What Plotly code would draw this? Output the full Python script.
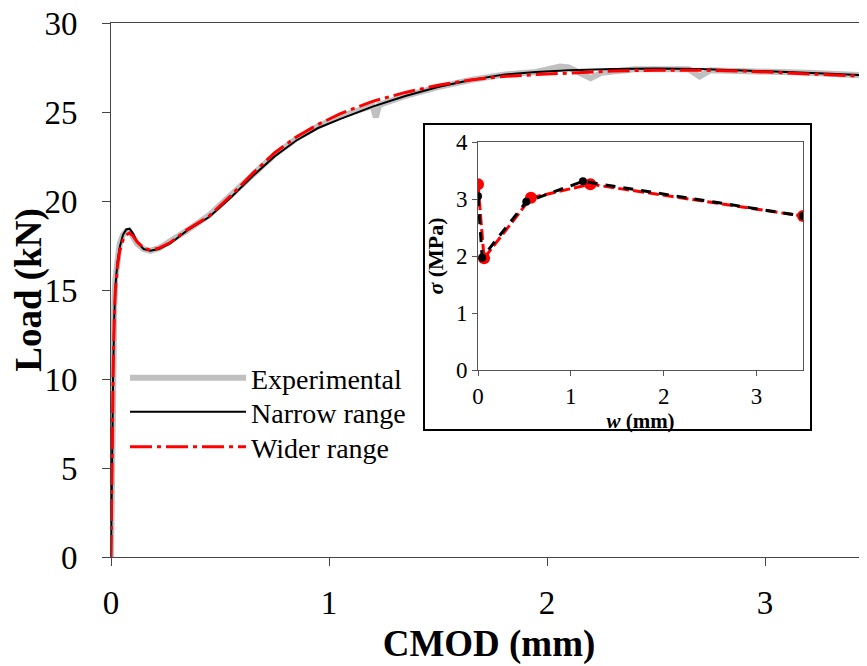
import plotly.graph_objects as go

# ---------------- data ----------------
exp_x = [0, 0.003, 0.006, 0.01, 0.015, 0.02, 0.03, 0.04, 0.055, 0.07, 0.085, 0.1, 0.12, 0.15,
         0.18, 0.22, 0.27, 0.35, 0.45, 0.55, 0.65, 0.75, 0.85, 0.95, 1.05, 1.15, 1.2, 1.215,
         1.23, 1.35, 1.5, 1.65, 1.8, 1.95, 2.0, 2.06, 2.1, 2.15, 2.2, 2.25, 2.4, 2.65, 2.7,
         2.75, 3.0, 3.2, 3.47]
exp_y = [0, 3.8, 7.5, 11.0, 14.0, 15.6, 16.9, 17.6, 18.1, 18.3, 18.3, 18.0, 17.6, 17.3,
         17.2, 17.35, 17.7, 18.35, 19.2, 20.3, 21.5, 22.6, 23.5, 24.2, 24.75, 25.2, 25.35, 24.7,
         25.4, 25.9, 26.4, 26.8, 27.1, 27.25, 27.4, 27.55, 27.5, 27.2, 26.9, 27.2, 27.4, 27.4, 27.0,
         27.35, 27.3, 27.2, 27.05]

nar_x = [0, 0.003, 0.006, 0.01, 0.015, 0.02, 0.03, 0.04, 0.055, 0.07, 0.085, 0.1, 0.12, 0.15,
         0.18, 0.22, 0.27, 0.35, 0.45, 0.55, 0.65, 0.75, 0.85, 0.95, 1.05, 1.2, 1.35, 1.5, 1.65,
         1.8, 1.95, 2.1, 2.3, 2.5, 2.7, 2.9, 3.1, 3.3, 3.47]
nar_y = [0, 3.5, 7.0, 10.5, 13.5, 15.2, 16.6, 17.4, 18.1, 18.4, 18.45, 18.2, 17.7, 17.3,
         17.2, 17.3, 17.6, 18.35, 19.1, 20.2, 21.4, 22.5, 23.4, 24.1, 24.6, 25.3, 25.9, 26.4, 26.8,
         27.1, 27.25, 27.35, 27.42, 27.45, 27.42, 27.35, 27.25, 27.15, 27.05]

wid_x = nar_x
wid_y = [0, 3.5, 7.0, 10.5, 13.5, 15.0, 16.4, 17.2, 17.8, 18.1, 18.2, 18.05, 17.7, 17.35,
         17.25, 17.35, 17.65, 18.4, 19.15, 20.3, 21.55, 22.7, 23.6, 24.3, 24.9, 25.6, 26.1, 26.5,
         26.8, 27.0, 27.1, 27.2, 27.3, 27.35, 27.35, 27.3, 27.2, 27.1, 27.0]

# inset: cohesive law sigma(w)
ins_nar_w = [0.0, 0.045, 0.52, 1.13, 3.5]
ins_nar_s = [3.05, 1.97, 2.95, 3.31, 2.70]
ins_wid_w = [0.0, 0.065, 0.57, 1.21, 3.5]
ins_wid_s = [3.26, 1.96, 3.02, 3.26, 2.70]

main_xticks = [0, 1, 2, 3]
main_yticks = [0, 5, 10, 15, 20, 25, 30]
ins_xticks = [0, 1, 2, 3]
ins_yticks = [0, 1, 2, 3, 4]

FONT = "Liberation Serif, Times New Roman, serif"

# page body has an 8px margin: work in window pixels, then subtract it
OFF = 8
WIN_W, WIN_H = 867, 666
W, H = WIN_W - OFF, WIN_H - OFF
PL, PR, PT, PB = 111, 867, 23, 557      # plot area in window pixels
L, T = PL - OFF, PT - OFF
R = (OFF + W) - PR
B = (OFF + H) - PB
pw, ph = PR - PL, PB - PT

def px_x(p):
    return (p - PL) / pw

def px_y(p):
    return (PB - p) / ph

fig = go.Figure()

fig.add_trace(go.Scatter(x=exp_x, y=exp_y, mode="lines", name="Experimental", legend="legend",
                         line=dict(color="#c0c0c0", width=6)))
fig.add_trace(go.Scatter(x=nar_x, y=nar_y, mode="lines", name="Narrow range", legend="legend2",
                         line=dict(color="black", width=2)))
fig.add_trace(go.Scatter(x=wid_x, y=wid_y, mode="lines", name="Wider range", legend="legend3",
                         line=dict(color="#ff0000", width=3, dash="22px,5px,4px,5px")))

# inset traces
fig.add_trace(go.Scatter(x=ins_wid_w, y=ins_wid_s, mode="lines+markers", showlegend=False,
                         xaxis="x2", yaxis="y2",
                         line=dict(color="#ff0000", width=3, dash="11px,4px"),
                         marker=dict(color="#ff0000", size=12)))
fig.add_trace(go.Scatter(x=ins_nar_w, y=ins_nar_s, mode="lines+markers", showlegend=False,
                         xaxis="x2", yaxis="y2",
                         line=dict(color="black", width=3, dash="10px,8px"),
                         marker=dict(color="black", size=8)))

def leg(row_y):
    return dict(x=px_x(125), y=px_y(row_y), xanchor="left", yanchor="middle",
                bgcolor="rgba(0,0,0,0)", font=dict(size=28, family=FONT),
                itemwidth=116)

fig.update_layout(
    width=W, height=H,
    margin=dict(l=L, r=R, t=T, b=B, autoexpand=False),
    paper_bgcolor="white", plot_bgcolor="white",
    font=dict(family=FONT, color="black"),
    showlegend=True,
    legend=leg(378), legend2=leg(412), legend3=leg(447),
    xaxis=dict(range=[0, pw / 218.0], tickvals=main_xticks, showgrid=False, zeroline=False,
               automargin=False, ticklabeloverflow="allow",
               showline=True, linecolor="#444", linewidth=1, mirror=True,
               ticks="outside", ticklen=8, tickcolor="#444",
               tickfont=dict(size=33, family=FONT), ticklabelstandoff=8,
               title=dict(text="<b>CMOD (mm)</b>", font=dict(size=37, family=FONT), standoff=10)),
    yaxis=dict(range=[0, 30], tickvals=main_yticks, showgrid=False, zeroline=False,
               automargin=False, ticklabeloverflow="allow",
               showline=True, linecolor="#444", linewidth=1,
               ticks="outside", ticklen=8, tickcolor="#444",
               tickfont=dict(size=33, family=FONT), ticklabelstandoff=18,
               title=dict(text="<b>Load (kN)</b>", font=dict(size=37, family=FONT), standoff=0)),
    xaxis2=dict(domain=[px_x(478), px_x(803)], anchor="y2", range=[0, 3.5], tickvals=ins_xticks,
                automargin=False,
                showgrid=False, zeroline=False, showline=True, linecolor="#555", linewidth=1,
                mirror=True, ticks="outside", ticklen=5, tickcolor="#555",
                tickfont=dict(size=23, family=FONT),
                title=dict(text="<b><i>w</i> (mm)</b>", font=dict(size=21, family=FONT), standoff=0)),
    yaxis2=dict(domain=[px_y(370), px_y(142)], anchor="x2", range=[0, 4], tickvals=ins_yticks,
                automargin=False,
                showgrid=False, zeroline=False, showline=True, linecolor="#555", linewidth=1,
                mirror=True, ticks="outside", ticklen=5, tickcolor="#555",
                tickfont=dict(size=23, family=FONT),
                title=dict(text="<b><i>σ</i> (MPa)</b>", font=dict(size=22, family=FONT), standoff=6)),
)

# inset frame
fig.add_shape(type="rect", xref="paper", yref="paper",
              x0=px_x(424), x1=px_x(811), y0=px_y(430), y1=px_y(124),
              line=dict(color="black", width=2), fillcolor="white", layer="below")

fig.write_html("out.html")
